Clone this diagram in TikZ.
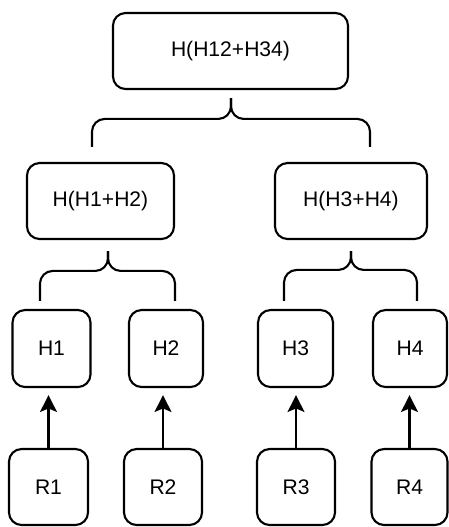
\documentclass[tikz,border=0pt]{standalone}
\usepackage{fontspec}
\setmainfont{Liberation Sans}
\usetikzlibrary{calc,arrows.meta}
\begin{document}
\begin{tikzpicture}[x=0.025cm,y=-0.025cm,%
% common options for the hash boxes:
hbox/.style = {draw, rounded corners=9pt, line width=1.5pt, align=center,
            minimum height=1.9cm, inner sep=0, font=\fontsize{15}{18}\selectfont},
% common options for the braces:
brace/.style = {draw, rounded corners=9pt, line width=1.5pt},
% common options for the arrows:
arr/.style = {-{Stealth[length=12pt,width=12pt,inset=2.5pt]}, line width=1.5pt, shorten >=5pt}]
\useasboundingbox (0,0) rectangle (448,527);
\node[hbox, minimum width=5.875cm] (top) at (230.5,51) {H(H12+H34)};
\node[hbox, minimum width=3.675cm] (mid1) at (100.5,201) {H(H1+H2)};
\node[hbox, minimum width=3.8cm] (mid2) at (351,201) {H(H3+H4)};
\node[hbox, minimum width=1.95cm, minimum height=1.925cm] (H1) at (51.5,348.5) {H1};
\node[hbox, minimum width=1.85cm, minimum height=1.925cm] (H2) at (166,348.5) {H2};
\node[hbox, minimum width=1.875cm, minimum height=1.925cm] (H3) at (295.5,348.5) {H3};
\node[hbox, minimum width=1.85cm, minimum height=1.925cm] (H4) at (410,348.5) {H4};
\node[hbox, minimum width=1.975cm, minimum height=1.9cm] (R1) at (48.5,487) {R1};
\node[hbox, minimum width=1.95cm, minimum height=1.9cm] (R2) at (163,487) {R2};
\node[hbox, minimum width=1.95cm, minimum height=1.9cm] (R3) at (296,487) {R3};
\node[hbox, minimum width=1.9cm, minimum height=1.9cm] (R4) at (409.5,487) {R4};
% braces
\draw[brace] ($(top.south)+(0.5,8)$) |- ($(mid1.north)+(-8.5,-43)$) -- ($(mid1.north)+(-8.5,-15)$);
\draw[brace] ($(top.south)+(0.5,8)$) |- ($(mid2.north)+(19,-43)$) -- ($(mid2.north)+(19,-15)$);
\draw[brace] ($(mid1.south)+(7.5,11)$) |- ($(H1.north)+(-11.5,-38)$) -- ($(H1.north)+(-11.5,-8)$);
\draw[brace] ($(mid1.south)+(7.5,11)$) |- ($(H2.north)+(9,-38)$) -- ($(H2.north)+(9,-8)$);
\draw[brace] ($(mid2.south)+(0,11)$) |- ($(H3.north)+(-11.5,-39)$) -- ($(H3.north)+(-11.5,-8)$);
\draw[brace] ($(mid2.south)+(0,11)$) |- ($(H4.north)+(7,-39)$) -- ($(H4.north)+(7,-8)$);
% arrows
\draw[arr] (R1.north) to (R1.north |- H1.south);
\draw[arr] (R2.north) to (R2.north |- H2.south);
\draw[arr] (R3.north) to (R3.north |- H3.south);
\draw[arr] (R4.north) to (R4.north |- H4.south);
\end{tikzpicture}
\end{document}
